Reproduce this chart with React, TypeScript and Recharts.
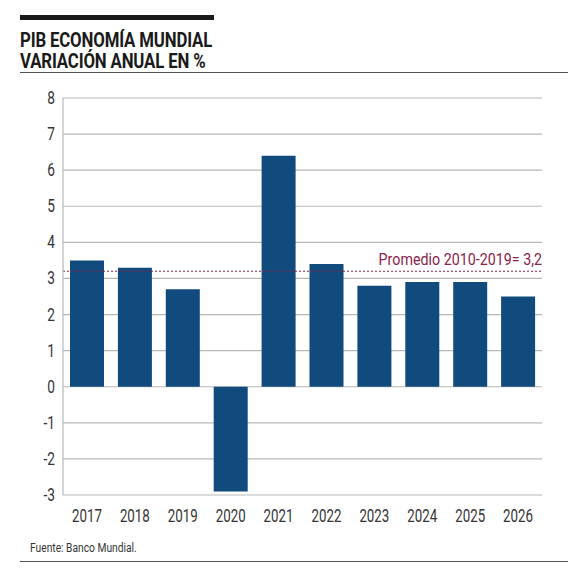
import React from 'react';
import { BarChart, Bar, XAxis, YAxis, CartesianGrid, ReferenceLine } from 'recharts';

const years = ['2017', '2018', '2019', '2020', '2021', '2022', '2023', '2024', '2025', '2026'];
const growth = [3.5, 3.3, 2.7, -2.9, 6.4, 3.4, 2.8, 2.9, 2.9, 2.5];
const yTicks = [-3, -2, -1, 0, 1, 2, 3, 4, 5, 6, 7, 8];
const promedio = 3.2;

const data = years.map((year, i) => ({ year, value: growth[i] }));

const FONT = 'Roboto, "Liberation Sans", sans-serif';
const BLUE = '#114a7c';
const MAROON = '#8a2249';
const TEXT = '#353535';

// condensed look: squeeze the glyphs horizontally around the anchor point
const XTick = (props: any) => {
  const { x, y, payload } = props;
  return (
    <g transform={`translate(${x},${y}) scale(0.74,1)`}>
      <text x={0} y={0} dy={15} textAnchor="middle" fill={TEXT} fontFamily={FONT} fontSize={18}>
        {payload.value}
      </text>
    </g>
  );
};

const YTick = (props: any) => {
  const { x, y, payload } = props;
  return (
    <g transform={`translate(${x},${y}) scale(0.76,1)`}>
      <text x={0} y={0} dy={6} textAnchor="end" fill={TEXT} fontFamily={FONT} fontSize={18}>
        {payload.value}
      </text>
    </g>
  );
};

// label sits above the dotted average line, right-aligned to the plot edge
const PromedioLabel = (props: any) => {
  const { viewBox } = props;
  if (!viewBox) return null;
  return (
    <g transform={`translate(${viewBox.x + viewBox.width},${viewBox.y - 6}) scale(0.84,1)`}>
      <text x={0} y={0} textAnchor="end" fill={MAROON} fontFamily={FONT} fontSize={17}>
        {`Promedio 2010-2019= ${String(promedio).replace('.', ',')}`}
      </text>
    </g>
  );
};

const titleLine: React.CSSProperties = {
  position: 'absolute',
  left: 20,
  fontSize: 21,
  lineHeight: '18px',
  height: 18,
  fontWeight: 700,
  color: '#1a1a1a',
  letterSpacing: -0.2,
  whiteSpace: 'nowrap',
  transform: 'scaleX(0.8)',
  transformOrigin: 'left top',
};

export default function App() {
  return (
    <div style={{ position: 'absolute', left: 0, top: 0, width: 584, height: 573, background: '#fff', fontFamily: FONT }}>
      {/* header */}
      <div style={{ position: 'absolute', left: 20, top: 15, width: 194, height: 5, background: '#1a1a1a' }} />
      <div style={{ ...titleLine, top: 31 }}>PIB ECONOMÍA MUNDIAL</div>
      <div style={{ ...titleLine, top: 52 }}>VARIACIÓN ANUAL EN %</div>
      <div style={{ position: 'absolute', left: 20, top: 72, width: 548, height: 1, background: '#555' }} />

      <div style={{ position: 'absolute', left: 0, top: 0 }}>
        <BarChart
          width={584}
          height={573}
          data={data}
          margin={{ top: 98, right: 42, left: 23, bottom: 48 }}
          barCategoryGap={7}
        >
          <CartesianGrid vertical={false} stroke="#b8b8b8" strokeWidth={1.2} />
          <XAxis
            dataKey="year"
            axisLine={false}
            tickLine={false}
            height={30}
            tick={<XTick />}
            tickMargin={6}
            interval={0}
          />
          <YAxis
            type="number"
            domain={[-3, 8]}
            ticks={yTicks}
            width={40}
            axisLine={{ stroke: '#b8b8b8', strokeWidth: 1.2 }}
            tickLine={false}
            tick={<YTick />}
            tickMargin={2}
            interval={0}
          />
          <ReferenceLine
            y={promedio}
            stroke={MAROON}
            strokeDasharray="2 2"
            strokeWidth={1}
            label={<PromedioLabel />}
          />
          <Bar dataKey="value" fill={BLUE} isAnimationActive={false} />
        </BarChart>
      </div>

      {/* footer */}
      <div
        style={{
          position: 'absolute',
          left: 30,
          top: 540,
          fontSize: 12.5,
          color: TEXT,
          whiteSpace: 'nowrap',
          transform: 'scaleX(0.82)',
          transformOrigin: 'left top',
        }}
      >
        Fuente: Banco Mundial.
      </div>
      <div style={{ position: 'absolute', left: 20, top: 561, width: 548, height: 1, background: '#555' }} />
    </div>
  );
}
